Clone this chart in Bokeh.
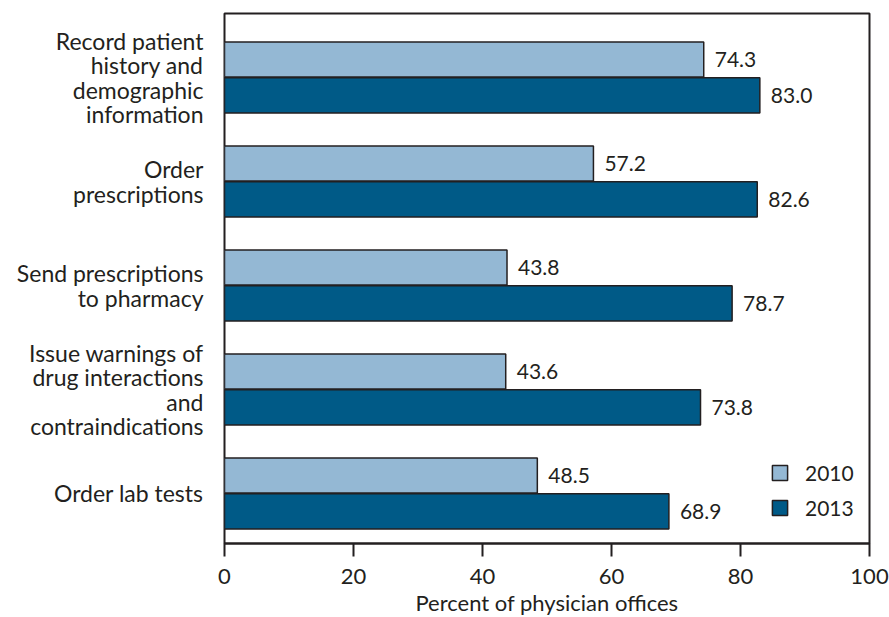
from bokeh.plotting import figure
from bokeh.models import ColumnDataSource, Legend, LegendItem, FixedTicker
from bokeh.embed import file_html
from bokeh.resources import INLINE
from bokeh.core.properties import value

categories = [
    "Record patient\nhistory and\ndemographic\ninformation",
    "Order\nprescriptions",
    "Send prescriptions\nto pharmacy",
    "Issue warnings of\ndrug interactions\nand\ncontraindications",
    "Order lab tests",
]
values_2010 = [74.3, 57.2, 43.8, 43.6, 48.5]
values_2013 = [83.0, 82.6, 78.7, 73.8, 68.9]
years = ["2010", "2013"]
x_ticks = [0, 20, 40, 60, 80, 100]

FONT = "Lato"
C2010 = "#94b8d4"
C2013 = "#005a87"
INK = "#231f20"

n = len(categories)
pos = [n - i for i in range(n)]
off = 0.172
bh = 0.337

src10 = ColumnDataSource(dict(y=[p_ + off for p_ in pos], x=values_2010,
                              lab=[f"{v:.1f}" for v in values_2010]))
src13 = ColumnDataSource(dict(y=[p_ - off for p_ in pos], x=values_2013,
                              lab=[f"{v:.1f}" for v in values_2013]))

p = figure(frame_width=645, frame_height=530, output_backend="svg", toolbar_location=None,
           x_range=(0, 100), y_range=(0.519, 5.615),
           min_border_left=224, min_border_right=20, min_border_top=13, min_border_bottom=74)

r10 = p.hbar(y="y", right="x", left=0, height=bh, source=src10,
             fill_color=C2010, line_color=INK, line_width=1.5)
r13 = p.hbar(y="y", right="x", left=0, height=bh, source=src13,
             fill_color=C2013, line_color=INK, line_width=1.5)

for s in (src10, src13):
    p.text(x="x", y="y", text="lab", source=s, x_offset=11, text_baseline="middle",
           text_align="left", text_font=value(FONT), text_font_size="21px",
           text_color=INK)

legend = Legend(items=[LegendItem(label=years[0], renderers=[r10]),
                       LegendItem(label=years[1], renderers=[r13])],
                location=(546, 23), padding=0, margin=0, spacing=10,
                glyph_width=19, glyph_height=19, label_height=19, label_standoff=16,
                label_text_font=FONT, label_text_font_size="21px", label_text_color=INK,
                border_line_color=None, background_fill_alpha=0)
p.add_layout(legend, "center")

p.grid.visible = False
p.outline_line_color = INK
p.outline_line_width = 2

xa = p.xaxis[0]
xa.ticker = FixedTicker(ticks=x_ticks)
xa.minor_tick_line_color = None
xa.major_tick_in = 0
xa.major_tick_out = 13
xa.major_tick_line_width = 2
xa.major_tick_line_color = INK
xa.axis_line_width = 2
xa.axis_line_color = INK
xa.major_label_text_font = FONT
xa.major_label_text_font_size = "22px"
xa.major_label_text_color = INK
xa.major_label_standoff = 12
xa.axis_label = "Percent of physician offices"
xa.axis_label_text_font = FONT
xa.axis_label_text_font_size = "22px"
xa.axis_label_text_font_style = "normal"
xa.axis_label_text_color = INK
xa.axis_label_standoff = 2

ya = p.yaxis[0]
ya.ticker = FixedTicker(ticks=pos)
ya.major_label_overrides = {pp: c for pp, c in zip(pos, categories)}
ya.major_tick_line_color = None
ya.minor_tick_line_color = None
ya.axis_line_color = None
ya.major_label_text_font = FONT
ya.major_label_text_font_size = "23px"
ya.major_label_text_color = INK
ya.major_label_text_align = "right"
ya.major_label_text_line_height = 0.88
ya.major_label_standoff = 15

open("out.html", "w").write(file_html(p, INLINE))
